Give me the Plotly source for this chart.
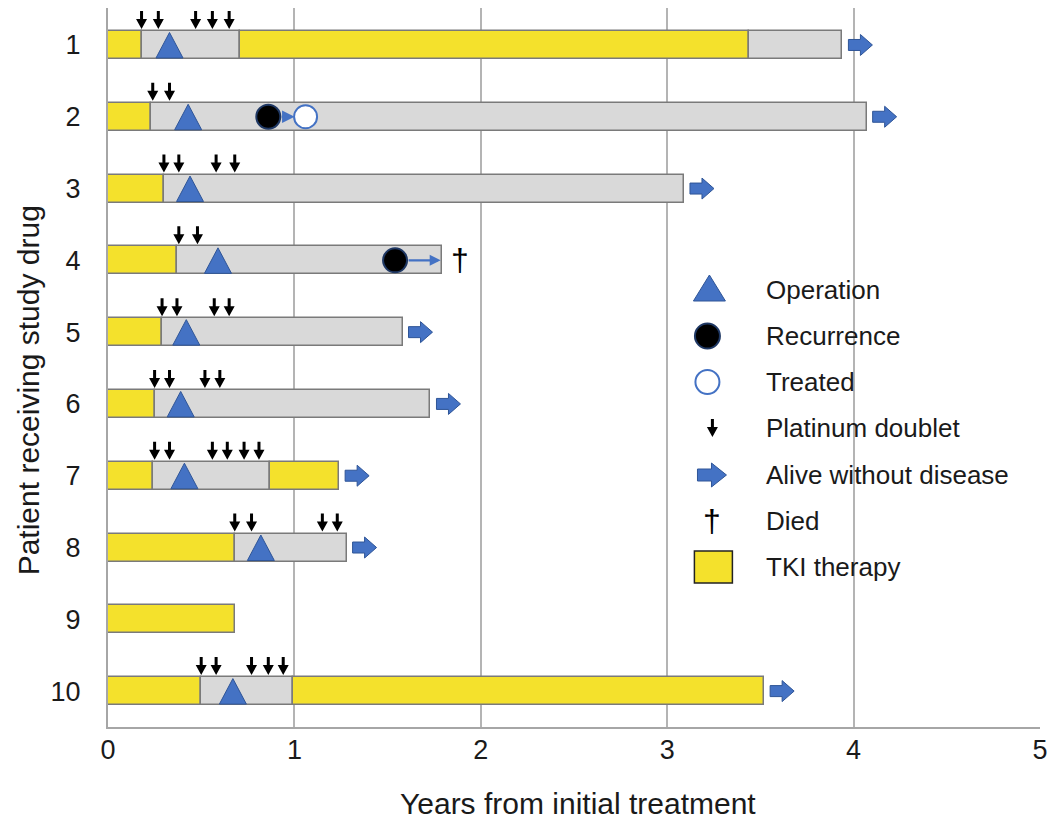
import plotly.graph_objects as go

# ---------------- data (years from initial treatment) ----------------
patients = [1, 2, 3, 4, 5, 6, 7, 8, 9, 10]
tki_first_end = [0.18, 0.23, 0.30, 0.37, 0.29, 0.25, 0.24, 0.68, 0.68, 0.50]
gray_end = [0.71, 4.07, 3.09, 1.79, 1.58, 1.73, 0.87, 1.28, None, 0.99]
tki_second_end = [3.44, None, None, None, None, None, 1.24, None, None, 3.52]
final_gray_end = [3.94, None, None, None, None, None, None, None, None, None]

operation_x = [0.33, 0.43, 0.44, 0.59, 0.42, 0.39, 0.41, 0.82, None, 0.67]
platinum_x = [
    [0.18, 0.27, 0.47, 0.56, 0.65],
    [0.24, 0.33],
    [0.30, 0.38, 0.58, 0.68],
    [0.38, 0.48],
    [0.29, 0.37, 0.57, 0.65],
    [0.25, 0.33, 0.52, 0.60],
    [0.25, 0.33, 0.56, 0.64, 0.73, 0.81],
    [0.68, 0.77, 1.15, 1.23],
    [],
    [0.50, 0.58, 0.77, 0.86, 0.94],
]
recurrence_patient = [2, 4]
recurrence_x = [0.86, 1.54]
treated_patient = [2]
treated_x = [1.06]
alive_patients = [1, 2, 3, 5, 6, 7, 8, 10]
died_patient = [4]
died_x = [1.89]

x_ticks = [0, 1, 2, 3, 4, 5]
legend_labels = ["Operation", "Recurrence", "Treated", "Platinum doublet",
                 "Alive without disease", "Died", "TKI therapy"]

# ---------------- styles ----------------
YELLOW = "#F4E12C"
GRAY = "#D9D9D9"
OUTLINE = "#7A7A7A"
BLUE = "#4472C4"
DBLUE = "#2F5597"
FONT = "Liberation Sans, Arial, sans-serif"
TXT = "#1a1a1a"
BAR_W = 0.39

fig = go.Figure()


def add_segments(starts, ends, color):
    ys, bases, lens = [], [], []
    for p, s, e in zip(patients, starts, ends):
        if s is None or e is None:
            continue
        ys.append(p)
        bases.append(s)
        lens.append(e - s)
    fig.add_trace(go.Bar(
        y=ys, x=lens, base=bases, orientation="h", width=BAR_W,
        marker=dict(color=color, line=dict(color=OUTLINE, width=1.5)),
        showlegend=False, hoverinfo="skip"))


add_segments([0] * len(patients), tki_first_end, YELLOW)
add_segments(tki_first_end, gray_end, GRAY)
add_segments(gray_end, tki_second_end, YELLOW)
add_segments(tki_second_end, final_gray_end, GRAY)


def bar_end(i):
    vals = [tki_first_end[i], gray_end[i], tki_second_end[i], final_gray_end[i]]
    return [v for v in vals if v is not None][-1]


def path(points):
    return "M" + " L".join(f"{x},{y}" for x, y in points) + " Z"


shapes = []

TRI = path([(-13.5, -13), (13.5, -13), (0, 12.5)])
DOWN = path([(0, 2), (-5.5, 12), (-1.5, 12), (-1.5, 20), (1.5, 20), (1.5, 12), (5.5, 12)])
BLOCK = path([(6, -5.5), (18, -5.5), (18, -10.5), (30, 0), (18, 10.5), (18, 5.5), (6, 5.5)])

for p, ox in zip(patients, operation_x):
    if ox is None:
        continue
    shapes.append(dict(type="path", xref="x", yref="y", xsizemode="pixel", ysizemode="pixel",
                       xanchor=ox, yanchor=p, path=TRI, fillcolor=BLUE,
                       line=dict(color=DBLUE, width=1)))

for p, xs in zip(patients, platinum_x):
    for px in xs:
        shapes.append(dict(type="path", xref="x", yref="y", xsizemode="pixel", ysizemode="pixel",
                           xanchor=px, yanchor=p - BAR_W / 2, path=DOWN, fillcolor="black",
                           line=dict(width=0)))

for p in alive_patients:
    i = patients.index(p)
    shapes.append(dict(type="path", xref="x", yref="y", xsizemode="pixel", ysizemode="pixel",
                       xanchor=bar_end(i), yanchor=p, path=BLOCK, fillcolor=BLUE,
                       line=dict(color=DBLUE, width=1)))

# recurrence / treated markers
fig.add_trace(go.Scatter(x=recurrence_x, y=recurrence_patient, mode="markers",
                         marker=dict(symbol="circle", size=24, color="black",
                                     line=dict(color="#1F3864", width=2)),
                         showlegend=False, hoverinfo="skip"))
fig.add_trace(go.Scatter(x=treated_x, y=treated_patient, mode="markers",
                         marker=dict(symbol="circle", size=23, color="white",
                                     line=dict(color=BLUE, width=2)),
                         showlegend=False, hoverinfo="skip"))

annotations = []
# recurrence -> treated arrow (patient 2)
annotations.append(dict(x=treated_x[0], y=treated_patient[0], ax=recurrence_x[0], ay=recurrence_patient[0],
                        xref="x", yref="y", axref="x", ayref="y", text="", showarrow=True,
                        arrowhead=2, arrowsize=1, arrowwidth=2.5, arrowcolor=BLUE,
                        standoff=11, startstandoff=12))
# recurrence -> end arrow (patient 4)
i4 = patients.index(recurrence_patient[1])
annotations.append(dict(x=bar_end(i4), y=recurrence_patient[1], ax=recurrence_x[1], ay=recurrence_patient[1],
                        xref="x", yref="y", axref="x", ayref="y", text="", showarrow=True,
                        arrowhead=2, arrowsize=1, arrowwidth=2.2, arrowcolor=BLUE,
                        standoff=1, startstandoff=12))
for p, dx in zip(died_patient, died_x):
    annotations.append(dict(x=dx, y=p, xref="x", yref="y", text="†", showarrow=False,
                            xanchor="center", yanchor="middle",
                            font=dict(family=FONT, size=32, color="black")))

# ---------------- layout geometry (page pixels) ----------------
FIG_W, FIG_H = 1056, 821
L, R, T, B = 108, 1044, 8, 727
W, H = R - L, B - T


def pxx(v):
    return (v - L) / W


def pyy(v):
    return (B - v) / H


# ---------------- custom legend ----------------
icon_x = 714
label_x = 767
rows_y = [290, 336, 382, 428, 475, 521, 567]

shapes.append(dict(type="path", xref="paper", yref="paper", xsizemode="pixel", ysizemode="pixel",
                   xanchor=pxx(icon_x - 2), yanchor=pyy(rows_y[0] - 2),
                   path=path([(-16, -13), (16, -13), (0, 13)]), fillcolor=BLUE,
                   line=dict(color=DBLUE, width=1)))
shapes.append(dict(type="circle", xref="paper", yref="paper", xsizemode="pixel", ysizemode="pixel",
                   xanchor=pxx(icon_x - 4), yanchor=pyy(rows_y[1]), x0=-12.5, x1=12.5, y0=-12.5, y1=12.5,
                   fillcolor="black", line=dict(color="#1F3864", width=2)))
shapes.append(dict(type="circle", xref="paper", yref="paper", xsizemode="pixel", ysizemode="pixel",
                   xanchor=pxx(icon_x - 4), yanchor=pyy(rows_y[2]), x0=-12, x1=12, y0=-12, y1=12,
                   fillcolor="white", line=dict(color=BLUE, width=2)))
shapes.append(dict(type="path", xref="paper", yref="paper", xsizemode="pixel", ysizemode="pixel",
                   xanchor=pxx(icon_x + 1), yanchor=pyy(rows_y[3] + 11), path=DOWN, fillcolor="black",
                   line=dict(width=0)))
shapes.append(dict(type="path", xref="paper", yref="paper", xsizemode="pixel", ysizemode="pixel",
                   xanchor=pxx(icon_x - 16), yanchor=pyy(rows_y[4]),
                   path=path([(2, -6), (16, -6), (16, -12), (31, 0), (16, 12), (16, 6), (2, 6)]),
                   fillcolor=BLUE, line=dict(color=DBLUE, width=1)))
annotations.append(dict(x=pxx(icon_x + 1), y=pyy(rows_y[5]), xref="paper", yref="paper", text="†",
                        xanchor="center", yanchor="middle",
                        showarrow=False, font=dict(family=FONT, size=32, color="black")))
shapes.append(dict(type="rect", xref="paper", yref="paper", xsizemode="pixel", ysizemode="pixel",
                   xanchor=pxx(icon_x + 2), yanchor=pyy(rows_y[6]), x0=-19, x1=19, y0=-16, y1=16,
                   fillcolor=YELLOW, line=dict(color="#222222", width=1.5)))

for lab, ry in zip(legend_labels, rows_y):
    annotations.append(dict(x=pxx(label_x), y=pyy(ry), xref="paper", yref="paper", text=lab,
                            xanchor="left", yanchor="middle", showarrow=False,
                            font=dict(family=FONT, size=26, color=TXT)))

# axis titles
annotations.append(dict(x=pxx(580), y=pyy(803), xref="paper", yref="paper",
                        xanchor="center", yanchor="middle",
                        text="Years from initial treatment", showarrow=False,
                        font=dict(family=FONT, size=30, color=TXT)))
annotations.append(dict(x=pxx(28), y=pyy(390), xref="paper", yref="paper", textangle=-90,
                        xanchor="center", yanchor="middle",
                        text="Patient receiving study drug", showarrow=False,
                        font=dict(family=FONT, size=30, color=TXT)))

fig.update_layout(
    width=FIG_W, height=FIG_H, autosize=False,
    margin=dict(l=L, r=FIG_W - R, t=T, b=FIG_H - B, pad=0),
    paper_bgcolor="white", plot_bgcolor="white",
    barmode="overlay", bargap=0,
    showlegend=False,
    shapes=shapes, annotations=annotations,
    font=dict(family=FONT, color=TXT),
)
fig.update_xaxes(range=[0, 5], tickvals=x_ticks, ticktext=[str(t) for t in x_ticks],
                 showgrid=True, gridcolor="#B4B4B4", gridwidth=1.5, zeroline=False,
                 showline=True, linecolor="#A6A6A6", linewidth=2, ticks="",
                 ticklabeloverflow="allow",
                 ticklabelstandoff=-2, tickfont=dict(family=FONT, size=27, color=TXT))
fig.update_yaxes(range=[10.5, 0.485], tickvals=patients, ticktext=[str(p) for p in patients],
                 showgrid=False, zeroline=False, showline=True, linecolor="#A6A6A6", linewidth=2,
                 ticks="", ticklabelstandoff=20, tickfont=dict(family=FONT, size=27, color=TXT))

fig.write_html(
    "out.html",
    config={"responsive": False, "displayModeBar": False},
    post_script="document.documentElement.style.overflow='hidden';"
                "document.body.style.margin='0px';document.body.style.overflow='hidden';",
)
